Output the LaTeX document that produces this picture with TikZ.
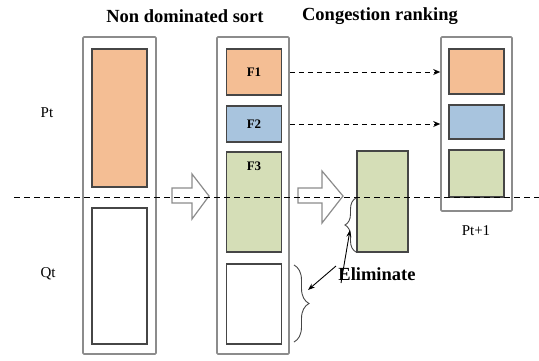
\documentclass[tikz,border=0pt]{standalone}
\usepackage{fontspec}
\setmainfont{Liberation Serif}
\usetikzlibrary{decorations.pathreplacing,arrows.meta}
\definecolor{orng}{RGB}{244,190,148}
\definecolor{blu}{RGB}{168,196,222}
\definecolor{grn}{RGB}{213,222,183}
\definecolor{outergray}{RGB}{140,140,140}
\definecolor{innergray}{RGB}{70,70,70}
\tikzset{
  outerbox/.style={draw=outergray,line width=1.6pt,fill=white,inner sep=0pt,rectangle,rounded corners=1pt},
  innerbox/.style={draw=innergray,line width=1.3pt,inner sep=0pt,rectangle},
  title/.style={font=\fontsize{18.5}{20}\selectfont\bfseries,inner sep=0pt},
  flabel/.style={font=\fontsize{13}{14}\selectfont\bfseries,inner sep=0pt},
  plabel/.style={font=\fontsize{15}{16}\selectfont,inner sep=0pt},
  blockarrow/.style={draw=outergray,line width=1.2pt,fill=white,line join=miter},
  dasharrow/.style={dashed,dash pattern=on 5pt off 4pt,line width=0.9pt,-{Stealth[length=7pt,width=6pt]}},
  elimarrow/.style={line width=0.9pt,-{Stealth[length=7pt,width=5pt]}},
  bracestyle/.style={decorate,line width=0.9pt,draw=innergray}
}
\begin{document}
\begin{tikzpicture}[x=1pt,y=-1pt]
\useasboundingbox (0,0) rectangle (539,360);
% left column
\node[outerbox,minimum width=73pt,minimum height=317pt] (lo) at (119.5,195.5) {};
\node[innerbox,fill=orng,minimum width=55pt,minimum height=138pt] (lp) at (119.5,118) {};
\node[innerbox,fill=white,minimum width=55pt,minimum height=136pt] (lq) at (119.5,276) {};
% middle column
\node[outerbox,minimum width=72pt,minimum height=317pt] (mo) at (253,195.5) {};
\node[innerbox,fill=orng,minimum width=55pt,minimum height=46pt] (f1) at (254,72) {};
\node[innerbox,fill=blu,minimum width=55pt,minimum height=36pt] (f2) at (254,124) {};
\node[innerbox,fill=grn,minimum width=55pt,minimum height=100pt] (f3) at (254,202) {};
\node[innerbox,fill=white,minimum width=55pt,minimum height=80pt] (mw) at (254,304) {};
\node[flabel] (f1t) at (f1) {F1};
\node[flabel] (f2t) at (f2) {F2};
\node[flabel,anchor=north] (f3t) at ([yshift=-10pt]f3.north) {F3};
% selected F3 part
\node[innerbox,fill=grn,minimum width=51pt,minimum height=101pt] (sg) at (382.5,201.5) {};
% right column
\node[outerbox,minimum width=71pt,minimum height=174pt] (ro) at (476.5,124) {};
\node[innerbox,fill=orng,minimum width=55pt,minimum height=45pt] (r1) at (476.5,71.5) {};
\node[innerbox,fill=blu,minimum width=55pt,minimum height=34pt] (r2) at (476.5,122) {};
\node[innerbox,fill=grn,minimum width=55pt,minimum height=47pt] (r3) at (476.5,173.5) {};
% block arrows
\draw[blockarrow] (172,188) -- (192,188) -- (192,174) -- (209,196) -- (192,219) -- (192,203) -- (172,203) -- cycle;
\draw[blockarrow] (298,188) -- (322,188) -- (322,171) -- (343,196) -- (322,223) -- (322,203) -- (298,203) -- cycle;
% dashed arrows
\draw[dasharrow] (f1.east -| mo.east) -- (f1.east -| ro.west);
\draw[dasharrow] (f2.east -| mo.east) -- (f2.east -| ro.west);
% dividing line
\coordinate (dl) at (14,197);
\coordinate (dr) at (539,197);
\draw[dashed,dash pattern=on 6pt off 4pt,line width=1pt] (dl) -- (dr);
% braces
\draw[bracestyle,decoration={brace,amplitude=11pt}] (356,252) -- (356,198);
\draw[bracestyle,decoration={brace,amplitude=15pt}] (294,265) -- (294,342);
% labels
\node[title] (t1) at (185,16) {Non dominated sort};
\node[title] (t2) at (380,16) {Congestion ranking};
\node[plabel] (pt) at (47,113) {Pt};
\node[plabel] (qt) at (48,274) {Qt};
\node[plabel] (pt1) at (476,231) {Pt+1};
\node[title] (el) at (377,274) {Eliminate};
\coordinate (e1) at (350,230);
\coordinate (e2) at (308,290);
\draw[elimarrow] ([xshift=-36pt,yshift=-9pt]el.center) -- (e1);
\draw[elimarrow] ([xshift=-41pt,yshift=8pt]el.center) -- (e2);
\end{tikzpicture}
\end{document}
